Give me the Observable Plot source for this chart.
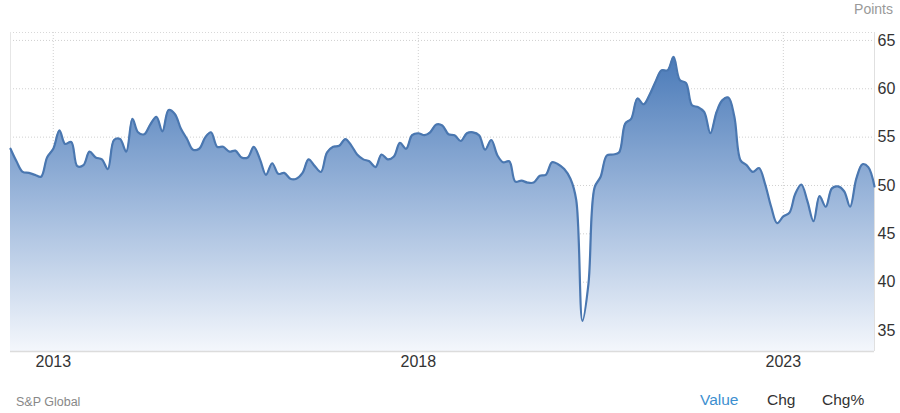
<!DOCTYPE html>
<html>
<head>
<meta charset="utf-8">
<script src="https://cdn.jsdelivr.net/npm/d3@7"></script>
<script src="https://cdn.jsdelivr.net/npm/@observablehq/plot@0.6"></script>
<style>
  html, body { margin: 0; padding: 0; background: #fff; }
  body { width: 900px; height: 413px; overflow: hidden; font-family: "Liberation Sans", Arial, sans-serif; position: relative; }
  #chart { position: absolute; left: 0; top: 0; }
  .unit { position: absolute; top: 1px; right: 7px; font-size: 14px; color: #999; }
  .footer { position: absolute; left: 0; top: 380px; width: 900px; height: 33px; }
  .src { position: absolute; left: 16px; top: 15px; font-size: 12.5px; color: #888; }
  .tab { position: absolute; top: 11px; font-size: 15.5px; color: #333; }
</style>
</head>
<body>
<div id="chart"></div>
<div class="unit">Points</div>
<div class="footer">
  <div class="src">S&amp;P Global</div>
  <div class="tab" style="left:700px;color:#3d8fd0">Value</div>
  <div class="tab" style="left:767px">Chg</div>
  <div class="tab" style="left:822px">Chg%</div>
</div>
<script>
// Monthly values, June 2012 .. April 2024
const startYear = 2012;
const startMonth = 6;
const values = [
  53.8, 52.5, 51.4, 51.3, 51.1, 50.9, 52.9,              // 2012 Jun-Dec
  53.8, 55.7, 54.3, 54.5, 52.0, 52.1, 53.5, 52.9, 52.7, 51.7, 54.7, 54.8, // 2013
  53.5, 56.9, 55.5, 55.3, 56.3, 57.1, 55.6, 57.8, 57.4, 55.9, 54.8, 53.7, // 2014
  53.8, 55.0, 55.5, 54.0, 54.0, 53.5, 53.6, 52.9, 52.9, 54.0, 52.7, 51.1, // 2015
  52.3, 51.2, 51.3, 50.7, 50.7, 51.3, 52.7, 52.0, 51.4, 53.4, 54.0, 54.1, // 2016
  54.8, 54.1, 53.2, 52.7, 52.5, 51.9, 53.2, 52.7, 53.0, 54.4, 53.8, 55.2, // 2017
  55.4, 55.2, 55.5, 56.3, 56.2, 55.3, 55.2, 54.6, 55.4, 55.5, 55.2, 53.7, // 2018
  54.7, 53.1, 52.4, 52.5, 50.4, 50.5, 50.3, 50.3, 51.0, 51.1, 52.4, 52.2, // 2019
  51.7, 50.7, 48.5, 36.0, 39.8, 49.8, 50.9, 53.1, 53.2, 53.4, 56.4, 56.9, // 2020
  59.0, 58.4, 59.3, 60.7, 61.9, 61.9, 63.3, 60.9, 60.6, 58.3, 58.1, 57.6, // 2021
  55.4, 57.6, 58.8, 59.1, 57.1, 52.6, 52.1, 51.4, 51.8, 50.2, 47.8, 46.1, // 2022
  46.8, 47.2, 49.1, 50.1, 48.4, 46.3, 48.9, 47.8, 49.7, 49.9, 49.4, 47.8, // 2023
  50.7, 52.2, 51.9, 49.9                                                  // 2024 Jan-Apr
];
const yTicks = [35, 40, 45, 50, 55, 60, 65];
const xTickYears = [2013, 2018, 2023];

const data = values.map((v, i) => ({date: new Date(Date.UTC(startYear, startMonth - 1 + i, 1)), value: v}));
const xTicks = xTickYears.map(y => new Date(Date.UTC(y, 0, 1)));
const yMin = 32.83, yMax = 65.82;
const xDomain = [data[0].date, data[data.length - 1].date];

const plot = Plot.plot({
  width: 900,
  height: 380,
  marginTop: 32,
  marginBottom: 29,
  marginLeft: 10,
  marginRight: 26,
  style: {fontFamily: "'Liberation Sans', Arial, sans-serif", background: "#fff", overflow: "visible"},
  x: {type: "utc", domain: xDomain},
  y: {domain: [yMin, yMax]},
  marks: [
    Plot.gridY(yTicks, {stroke: "#d0d0d0", strokeOpacity: 1, strokeDasharray: "1,2"}),
    Plot.ruleY([yMax], {stroke: "#d8d8d8", strokeDasharray: "1,2"}),
    Plot.gridX(xTicks, {stroke: "#d0d0d0", strokeOpacity: 1, strokeDasharray: "1,2"}),
    Plot.ruleX([xDomain[0]], {stroke: "#e6e6e6"}),
    Plot.ruleX([xDomain[1]], {stroke: "#e0e0e0"}),
    Plot.areaY(data, {x: "date", y1: yMin, y2: "value", curve: "catmull-rom", fill: "url(#areaGrad)"}),
    Plot.lineY(data, {x: "date", y: "value", curve: "catmull-rom", stroke: "#4a77b0", strokeWidth: 2.2}),
    Plot.ruleY([yMin], {stroke: "#dcdcdc", strokeWidth: 1.5, dx: 0}),
    Plot.axisY(yTicks, {anchor: "right", tickSize: 0, tickPadding: 3, fontSize: 16, fill: "#333", label: null, textAnchor: "start"}),
    Plot.axisX(xTicks, {anchor: "bottom", tickSize: 0, tickPadding: 4, fontSize: 16, fill: "#333", label: null, tickFormat: d3.utcFormat("%Y")})
  ]
});

const svg = d3.select(plot);
const defs = svg.insert("defs", ":first-child");
const g = defs.append("linearGradient").attr("id", "areaGrad").attr("x1", 0).attr("y1", 0).attr("x2", 0).attr("y2", 1);
g.append("stop").attr("offset", "0%").attr("stop-color", "#4a7ab8");
g.append("stop").attr("offset", "50%").attr("stop-color", "#9fb9dc");
g.append("stop").attr("offset", "100%").attr("stop-color", "#f4f7fc");

document.getElementById("chart").appendChild(plot);
</script>
</body>
</html>
